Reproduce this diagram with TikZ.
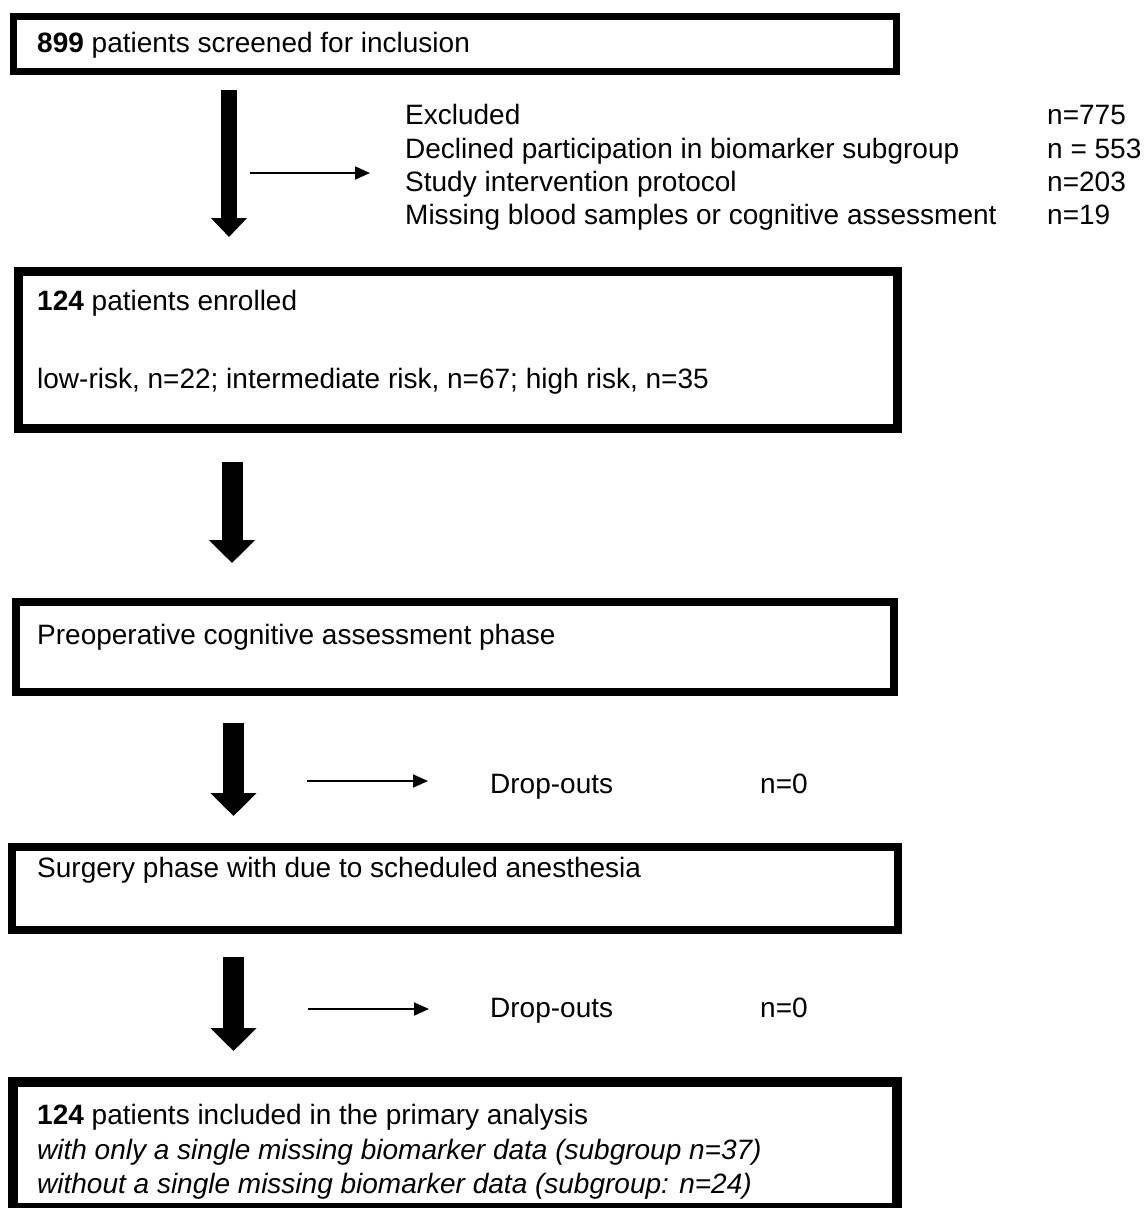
\documentclass[tikz,border=0pt]{standalone}
\usepackage{fontspec}
\setmainfont{Liberation Sans}
\usetikzlibrary{arrows.meta}
\begin{document}
\begin{tikzpicture}[x=1pt,y=-1pt,
  txt/.style={anchor=base west,inner sep=0pt,font=\fontsize{28pt}{33pt}\selectfont},
  boxframe/.style={draw=black,fill=white,inner sep=0pt},
  bigarrow/.style={draw=black,line width=21pt,-{Triangle[width=45pt,length=23pt]}},
  smallbigarrow/.style={draw=black,line width=16pt,-{Triangle[width=35pt,length=19pt]}},
  thinarrow/.style={draw=black,line width=1.8pt,-{Triangle[width=13pt,length=15pt]}}]
\useasboundingbox (0,0) rectangle (1145,1208);
\clip (0,0) rectangle (1145,1208);
\fill[white] (0,0) rectangle (1145,1208);

% boxes
\node[boxframe,line width=7pt,minimum width=883pt,minimum height=55pt] (b1) at (455,44) {};
\node[boxframe,line width=9pt,minimum width=879pt,minimum height=157pt] (b2) at (458,350) {};
\node[boxframe,line width=8pt,minimum width=878pt,minimum height=90pt] (b3) at (455,647) {};
\node[boxframe,line width=8pt,minimum width=886pt,minimum height=83pt] (b4) at (455,888.5) {};
\node[boxframe,line width=10pt,minimum width=884pt,minimum height=126pt] (b5) at (455,1145) {};

% box texts
\node[txt] (t1) at (37,52) {\textbf{899} patients screened for inclusion};
\node[txt] (t2a) at (37,310) {\textbf{124} patients enrolled};
\node[txt] (t2b) at (37,388) {low-risk, n=22; intermediate risk, n=67; high risk, n=35};
\node[txt] (t3) at (37,644) {Preoperative cognitive assessment phase};
\node[txt] (t4) at (37,877) {Surgery phase with due to scheduled anesthesia};
\node[txt] (t5a) at (37,1124) {\textbf{124} patients included in the primary analysis};
\node[txt] (t5b) at (37,1159) {\itshape with only a single missing biomarker data (subgroup n=37)};
\node[txt] (t5c) at (37,1193) {\itshape without a single missing biomarker data (subgroup: n=24)};

% exclusion list
\node[txt] (e1) at (405,124) {Excluded};
\node[txt] (e2) at (405,158) {Declined participation in biomarker subgroup};
\node[txt] (e3) at (405,191) {Study intervention protocol};
\node[txt] (e4) at (405,224) {Missing blood samples or cognitive assessment};
\node[txt] (n1) at (1047,124) {n=775};
\node[txt] (n2) at (1047,158) {n = 553};
\node[txt] (n3) at (1047,191) {n=203};
\node[txt] (n4) at (1047,224) {n=19};

% drop-outs
\node[txt] (d1) at (490,793) {Drop-outs};
\node[txt] (dn1) at (760,793) {n=0};
\node[txt] (d2) at (490,1017) {Drop-outs};
\node[txt] (dn2) at (760,1017) {n=0};

% arrow end points
\coordinate (a1s) at (229,90);   \coordinate (a1e) at (229,237);
\coordinate (a2s) at (232,462);  \coordinate (a2e) at (232,563);
\coordinate (a3s) at (233.5,723);\coordinate (a3e) at (233.5,816);
\coordinate (a4s) at (233.5,957);\coordinate (a4e) at (233.5,1051);
\coordinate (h1s) at (250,173);  \coordinate (h1e) at (370,173);
\coordinate (h3s) at (307,781);  \coordinate (h3e) at (428,781);
\coordinate (h4s) at (308,1009); \coordinate (h4e) at (429,1009);

\draw[smallbigarrow] (a1s) -- (a1e);
\draw[bigarrow] (a2s) -- (a2e);
\draw[bigarrow] (a3s) -- (a3e);
\draw[bigarrow] (a4s) -- (a4e);
\draw[thinarrow] (h1s) -- (h1e);
\draw[thinarrow] (h3s) -- (h3e);
\draw[thinarrow] (h4s) -- (h4e);
\end{tikzpicture}
\end{document}
